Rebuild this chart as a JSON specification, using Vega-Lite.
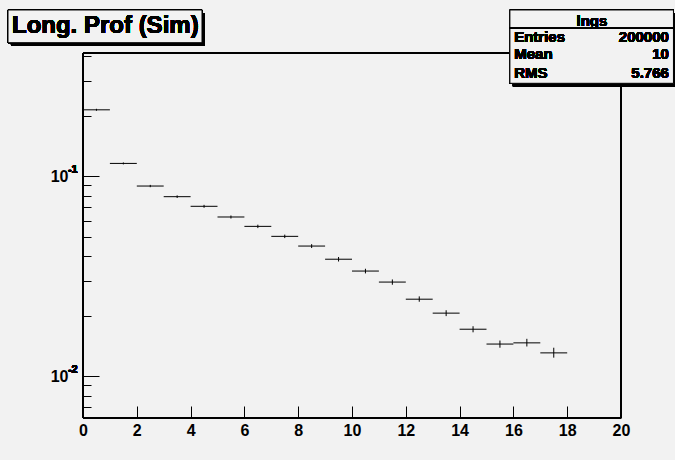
{
  "$schema": "https://vega.github.io/schema/vega-lite/v6.json",
  "autosize": {"type": "none"},
  "padding": {"left": 83, "top": 53, "right": 54, "bottom": 42},
  "width": 538,
  "height": 365,
  "background": "#f2f2f2",
  "config": {
    "view": {"stroke": null},
    "font": "Liberation Sans",
    "text": {"font": "Liberation Sans", "fontWeight": "bold", "color": "black"}
  },
  "data": {
    "values": [
      {"center": 0.5, "edge_lo": 0, "edge_hi": 1, "value": 0.215, "err_lo": 0.2126, "err_hi": 0.2175},
      {"center": 1.5, "edge_lo": 1, "edge_hi": 2, "value": 0.116, "err_lo": 0.1147, "err_hi": 0.1173},
      {"center": 2.5, "edge_lo": 2, "edge_hi": 3, "value": 0.0894, "err_lo": 0.0882, "err_hi": 0.0906},
      {"center": 3.5, "edge_lo": 3, "edge_hi": 4, "value": 0.0791, "err_lo": 0.0779, "err_hi": 0.0803},
      {"center": 4.5, "edge_lo": 4, "edge_hi": 5, "value": 0.0708, "err_lo": 0.0696, "err_hi": 0.072},
      {"center": 5.5, "edge_lo": 5, "edge_hi": 6, "value": 0.0626, "err_lo": 0.0615, "err_hi": 0.0637},
      {"center": 6.5, "edge_lo": 6, "edge_hi": 7, "value": 0.0562, "err_lo": 0.0551, "err_hi": 0.0573},
      {"center": 7.5, "edge_lo": 7, "edge_hi": 8, "value": 0.0501, "err_lo": 0.0491, "err_hi": 0.0511},
      {"center": 8.5, "edge_lo": 8, "edge_hi": 9, "value": 0.0448, "err_lo": 0.0438, "err_hi": 0.0458},
      {"center": 9.5, "edge_lo": 9, "edge_hi": 10, "value": 0.0385, "err_lo": 0.0375, "err_hi": 0.0395},
      {"center": 10.5, "edge_lo": 10, "edge_hi": 11, "value": 0.0336, "err_lo": 0.0327, "err_hi": 0.0345},
      {"center": 11.5, "edge_lo": 11, "edge_hi": 12, "value": 0.0296, "err_lo": 0.0287, "err_hi": 0.0305},
      {"center": 12.5, "edge_lo": 12, "edge_hi": 13, "value": 0.0243, "err_lo": 0.0236, "err_hi": 0.0251},
      {"center": 13.5, "edge_lo": 13, "edge_hi": 14, "value": 0.0207, "err_lo": 0.02, "err_hi": 0.0214},
      {"center": 14.5, "edge_lo": 14, "edge_hi": 15, "value": 0.0172, "err_lo": 0.0166, "err_hi": 0.0178},
      {"center": 15.5, "edge_lo": 15, "edge_hi": 16, "value": 0.0145, "err_lo": 0.0139, "err_hi": 0.0151},
      {"center": 16.5, "edge_lo": 16, "edge_hi": 17, "value": 0.0147, "err_lo": 0.0141, "err_hi": 0.0154},
      {"center": 17.5, "edge_lo": 17, "edge_hi": 18, "value": 0.0131, "err_lo": 0.0124, "err_hi": 0.0139}
    ]
  },
  "layer": [
    {
      "mark": {"type": "rect", "fill": null, "stroke": "black", "strokeWidth": 1},
      "encoding": {
        "x": {"datum": 0, "type": "quantitative", "scale": {"domain": [0, 20], "nice": false, "zero": false},
          "axis": {
            "values": [0,0.5,1,1.5,2,2.5,3,3.5,4,4.5,5,5.5,6,6.5,7,7.5,8,8.5,9,9.5,10,10.5,11,11.5,12,12.5,13,13.5,14,14.5,15,15.5,16,16.5,17,17.5,18,18.5,19,19.5,20],
            "labelExpr": "datum.value % 2 == 0 ? format(datum.value, 'd') : ''",
            "tickSize": {"expr": "datum.value % 2 == 0 ? -12 : -6"},
            "tickColor": "black",
            "tickWidth": 1,
            "domain": false,
            "grid": false,
            "title": null,
            "labelOverlap": false,
            "labelFlush": false,
            "labelFont": "Liberation Sans",
            "labelFontWeight": "bold",
            "labelFontSize": 16,
            "labelColor": "black",
            "labelPadding": 16,
            "labelBaseline": "top"
          }},
        "x2": {"datum": 20},
        "y": {"datum": 0.00619, "type": "quantitative", "scale": {"type": "log", "domain": [0.00619, 0.4135], "nice": false},
          "axis": {
            "values": [0.007,0.008,0.009,0.01,0.02,0.03,0.04,0.05,0.06,0.07,0.08,0.09,0.1,0.2,0.3,0.4],
            "labelExpr": "(datum.value == 0.1 || datum.value == 0.01) ? '10' : ''",
            "tickSize": {"expr": "(datum.value == 0.1 || datum.value == 0.01) ? -16 : -8"},
            "tickColor": "black",
            "domain": false,
            "grid": false,
            "title": null,
            "labelOverlap": false,
            "labelFlush": false,
            "labelFont": "Liberation Sans",
            "labelFontWeight": "bold",
            "labelFontSize": 16,
            "labelColor": "black",
            "labelPadding": 31,
            "labelBaseline": "middle"
          }},
        "y2": {"datum": 0.4135}
      }
    },
    {"mark": {"type": "text", "text": "-1", "fontSize": 11, "align": "left", "baseline": "middle", "dy": -6},
     "encoding": {"x": {"datum": -0.56}, "y": {"datum": 0.1}}},
    {"mark": {"type": "text", "text": "-2", "fontSize": 11, "align": "left", "baseline": "middle", "dy": -6},
     "encoding": {"x": {"datum": -0.56}, "y": {"datum": 0.01}}},
    {
      "mark": {"type": "rule", "color": "black", "strokeWidth": 1},
      "encoding": {
        "x": {"field": "edge_lo", "type": "quantitative"},
        "x2": {"field": "edge_hi"},
        "y": {"field": "value", "type": "quantitative"}
      }
    },
    {
      "mark": {"type": "rule", "color": "black", "strokeWidth": 1},
      "encoding": {
        "x": {"field": "center", "type": "quantitative"},
        "y": {"field": "err_lo", "type": "quantitative"},
        "y2": {"field": "err_hi"}
      }
    },
    {
      "mark": {"type": "rect", "fill": "black", "clip": false},
      "encoding": {
        "x": {"datum": 15.98}, "x2": {"datum": 22.08},
        "y": {"datum": 0.6554}, "y2": {"datum": 0.2818}
      }
    },
    {
      "mark": {"type": "rect", "fill": "#f2f2f2", "stroke": "black", "strokeWidth": 1},
      "encoding": {
        "x": {"datum": 15.87}, "x2": {"datum": 21.95},
        "y": {"datum": 0.6785}, "y2": {"datum": 0.2917}
      }
    },
    {
      "mark": {"type": "rule", "color": "black", "strokeWidth": 1},
      "encoding": {
        "x": {"datum": 15.87}, "x2": {"datum": 21.95},
        "y": {"datum": 0.5495}
      }
    },
    {"mark": {"type": "text", "text": "lngs", "fontSize": 15, "align": "center", "baseline": "middle"},
     "encoding": {"x": {"datum": 18.92}, "y": {"datum": 0.6}}},
    {"mark": {"type": "text", "text": "Entries", "fontSize": 15, "align": "left", "baseline": "middle"},
     "encoding": {"x": {"datum": 16.03}, "y": {"datum": 0.499}}},
    {"mark": {"type": "text", "text": "200000", "fontSize": 15, "align": "right", "baseline": "middle"},
     "encoding": {"x": {"datum": 21.78}, "y": {"datum": 0.499}}},
    {"mark": {"type": "text", "text": "Mean", "fontSize": 15, "align": "left", "baseline": "middle"},
     "encoding": {"x": {"datum": 16.03}, "y": {"datum": 0.4074}}},
    {"mark": {"type": "text", "text": "10", "fontSize": 15, "align": "right", "baseline": "middle"},
     "encoding": {"x": {"datum": 21.78}, "y": {"datum": 0.4074}}},
    {"mark": {"type": "text", "text": "RMS", "fontSize": 15, "align": "left", "baseline": "middle"},
     "encoding": {"x": {"datum": 16.03}, "y": {"datum": 0.3273}}},
    {"mark": {"type": "text", "text": "5.766", "fontSize": 15, "align": "right", "baseline": "middle"},
     "encoding": {"x": {"datum": 21.78}, "y": {"datum": 0.3273}}},
    {
      "mark": {"type": "rect", "fill": "black"},
      "encoding": {
        "x": {"datum": -2.678}, "x2": {"datum": 4.534},
        "y": {"datum": 0.6554}, "y2": {"datum": 0.4498}
      }
    },
    {
      "mark": {"type": "rect", "fill": "#f2f2f2", "stroke": "black", "strokeWidth": 1},
      "encoding": {
        "x": {"datum": -2.788}, "x2": {"datum": 4.424},
        "y": {"datum": 0.6785}, "y2": {"datum": 0.4656}
      }
    },
    {"mark": {"type": "text", "text": "Long. Prof (Sim)", "fontSize": 24, "align": "left", "baseline": "middle"},
     "encoding": {"x": {"datum": -2.64}, "y": {"datum": 0.5623}}}
  ]
}
